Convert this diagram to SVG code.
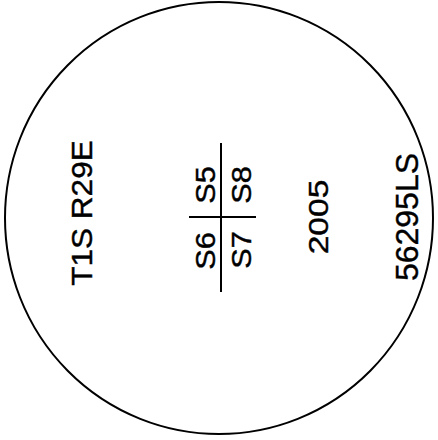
<svg xmlns="http://www.w3.org/2000/svg" width="438" height="440" viewBox="0 0 438 440">
<style>
.t{font-family:"Liberation Sans",Arial,sans-serif;fill:#000;stroke:#000;stroke-width:0.4;text-anchor:middle}
.ln{stroke:#000;stroke-width:2;fill:none}
</style>
<rect width="438" height="440" fill="#fff"/>
<g id="outline"><ellipse class="ln" cx="219" cy="218" rx="214" ry="216"/></g>
<g id="township"><text class="t" font-size="30" transform="translate(92,213) rotate(-90) scale(1.05,1)">T1S  R29E</text></g>
<g id="sections">
<line class="ln" x1="221" y1="143" x2="221" y2="292"/>
<line class="ln" x1="189" y1="217" x2="256" y2="217"/>
<text class="t" font-size="28" transform="translate(215,185) rotate(-90) scale(1.1,1)">S5</text>
<text class="t" font-size="28" transform="translate(215,251) rotate(-90) scale(1.1,1)">S6</text>
<text class="t" font-size="28" transform="translate(251,185) rotate(-90) scale(1.1,1)">S8</text>
<text class="t" font-size="28" transform="translate(251,250) rotate(-90) scale(1.1,1)">S7</text>
</g>
<g id="year"><text class="t" font-size="28" transform="translate(328,217) rotate(-90) scale(1.2,1)">2005</text></g>
<g id="code"><text class="t" font-size="32" transform="translate(418,217) rotate(-90)">56295LS</text></g>
</svg>
